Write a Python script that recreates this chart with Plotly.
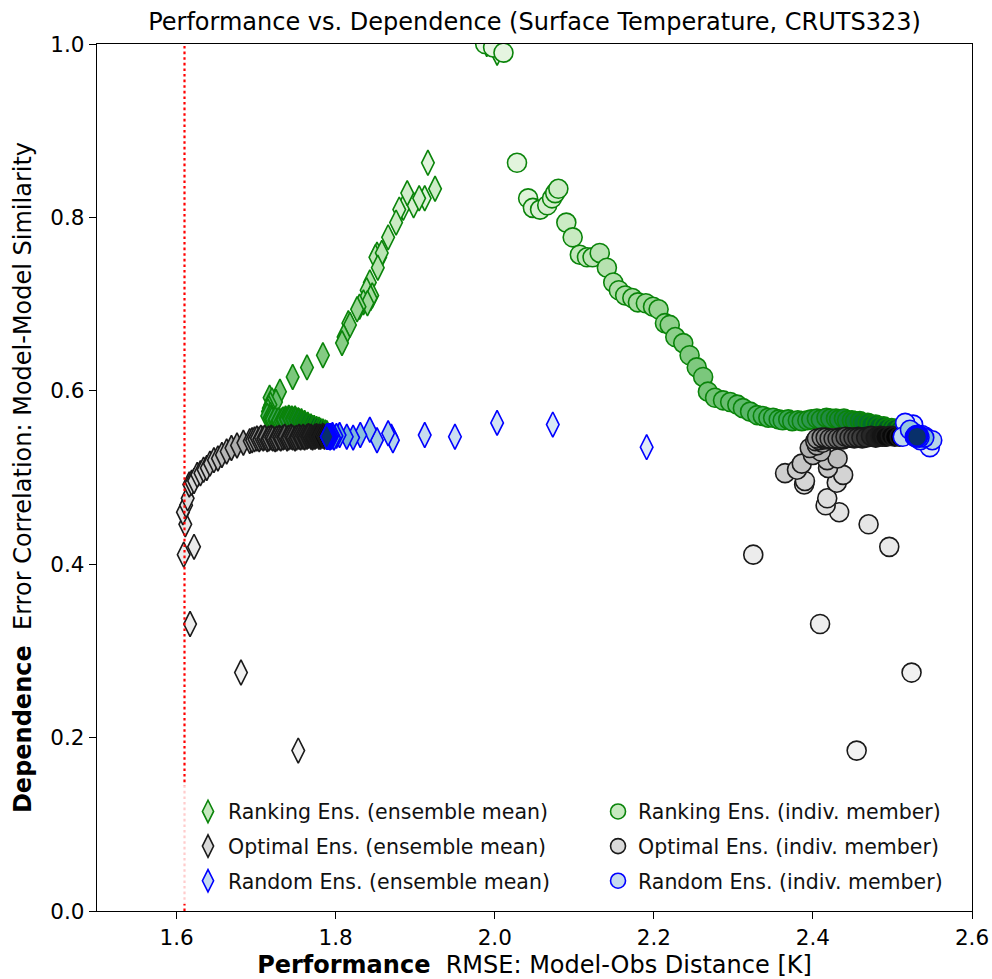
import plotly.graph_objects as go

FONT = "DejaVu Sans"

# ---------------- data ----------------
x_ticks = [1.6, 1.8, 2.0, 2.2, 2.4, 2.6]
y_ticks = [0.0, 0.2, 0.4, 0.6, 0.8, 1.0]
best_single_rmse = 1.61

# Ranking ensemble (ordered by ensemble size)
rank_dep = [
    1.000, 0.996, 0.990,
    0.863, 0.822, 0.811, 0.809, 0.814, 0.822, 0.828, 0.833,
    0.794, 0.777, 0.757, 0.754, 0.754, 0.759, 0.742, 0.725, 0.716, 0.710,
    0.707, 0.702, 0.701, 0.697, 0.694, 0.678, 0.676, 0.662, 0.655, 0.641,
    0.627, 0.616, 0.599, 0.592, 0.589, 0.587, 0.584, 0.580, 0.576, 0.572,
    0.571, 0.569, 0.569, 0.567, 0.566, 0.567, 0.565, 0.566, 0.565, 0.566,
    0.567, 0.568, 0.567, 0.569, 0.568, 0.568, 0.567, 0.568, 0.566, 0.566,
    0.565, 0.565, 0.563, 0.563, 0.561, 0.561, 0.559, 0.559, 0.557, 0.557,
    0.556, 0.555, 0.554, 0.553, 0.552, 0.551,
]
rank_perf_mean = [
    1.990, 2.000, 2.003,
    1.916, 1.912, 1.885, 1.880, 1.898, 1.905, 1.890, 1.925,
    1.876, 1.866, 1.852, 1.856, 1.850, 1.858, 1.853, 1.843, 1.839, 1.846,
    1.844, 1.835, 1.840, 1.830, 1.827, 1.816, 1.818, 1.810, 1.808, 1.784,
    1.764, 1.746, 1.730, 1.717, 1.720, 1.725, 1.718, 1.716, 1.715, 1.718,
    1.714, 1.717, 1.719, 1.720, 1.723, 1.724, 1.727, 1.728, 1.731, 1.733,
    1.734, 1.737, 1.738, 1.741, 1.742, 1.745, 1.746, 1.749, 1.750, 1.753,
    1.754, 1.757, 1.758, 1.761, 1.762, 1.765, 1.766, 1.769, 1.771, 1.773,
    1.776, 1.779, 1.781, 1.784, 1.787, 1.789,
]
rank_perf_member = [
    1.988, 1.998, 2.011,
    2.028, 2.042, 2.048, 2.057, 2.066, 2.072, 2.076, 2.080,
    2.090, 2.098, 2.107, 2.116, 2.123, 2.132, 2.141, 2.149, 2.156, 2.164,
    2.173, 2.180, 2.190, 2.199, 2.206, 2.214, 2.220, 2.227, 2.237, 2.245,
    2.254, 2.262, 2.268, 2.277, 2.287, 2.296, 2.305, 2.312, 2.321, 2.330,
    2.337, 2.344, 2.350, 2.357, 2.362, 2.369, 2.374, 2.381, 2.386, 2.393,
    2.398, 2.405, 2.410, 2.417, 2.422, 2.429, 2.433, 2.439, 2.443, 2.449,
    2.453, 2.459, 2.463, 2.469, 2.473, 2.479, 2.483, 2.489, 2.493, 2.499,
    2.503, 2.509, 2.513, 2.519, 2.523, 2.528,
]

# Optimal ensemble
opt_dep = [
    0.185, 0.275, 0.331, 0.411, 0.420, 0.446, 0.460, 0.468, 0.476, 0.492,
    0.494, 0.496, 0.503, 0.505, 0.509, 0.511, 0.516, 0.520, 0.522, 0.526,
    0.530, 0.534, 0.537, 0.540, 0.542, 0.543, 0.544, 0.545, 0.544, 0.546,
    0.545, 0.546, 0.544, 0.545, 0.546, 0.545, 0.544, 0.545, 0.546, 0.545,
    0.546, 0.547, 0.545, 0.546, 0.547, 0.546, 0.545, 0.546, 0.547, 0.546,
    0.547, 0.546, 0.547, 0.548, 0.547, 0.546, 0.547, 0.548, 0.547, 0.547,
    0.548, 0.547, 0.547,
]
opt_perf_mean = [
    1.753, 1.681, 1.617, 1.609, 1.622, 1.611, 1.608, 1.612, 1.614, 1.616,
    1.619, 1.622, 1.626, 1.630, 1.634, 1.638, 1.642, 1.647, 1.652, 1.657,
    1.663, 1.669, 1.676, 1.684, 1.692, 1.695, 1.698, 1.701, 1.704, 1.706,
    1.709, 1.711, 1.714, 1.716, 1.719, 1.721, 1.724, 1.726, 1.729, 1.731,
    1.734, 1.736, 1.739, 1.741, 1.744, 1.746, 1.749, 1.751, 1.754, 1.756,
    1.759, 1.761, 1.764, 1.766, 1.769, 1.771, 1.774, 1.776, 1.779, 1.781,
    1.784, 1.786, 1.789,
]
opt_perf_member = [
    2.455, 2.524, 2.409, 2.325, 2.496, 2.470, 2.433, 2.416, 2.418, 2.389,
    2.430, 2.390, 2.438, 2.365, 2.380, 2.419, 2.386, 2.418, 2.431, 2.400,
    2.410, 2.396, 2.405, 2.412, 2.403, 2.408, 2.414, 2.405, 2.420, 2.411,
    2.424, 2.416, 2.428, 2.421, 2.433, 2.426, 2.438, 2.431, 2.442, 2.436,
    2.447, 2.441, 2.452, 2.446, 2.457, 2.451, 2.462, 2.456, 2.467, 2.461,
    2.472, 2.467, 2.477, 2.473, 2.482, 2.479, 2.487, 2.485, 2.492, 2.491,
    2.498, 2.503, 2.509,
]

# Random ensemble
rnd_dep = [
    0.535, 0.561, 0.563, 0.547, 0.549, 0.547, 0.543, 0.551, 0.543, 0.555,
    0.549, 0.546, 0.547, 0.549, 0.548, 0.546, 0.549, 0.547, 0.548, 0.546,
    0.548, 0.547, 0.548, 0.547, 0.547, 0.548, 0.547, 0.547, 0.547, 0.547,
]
rnd_perf_mean = [
    2.191, 2.073, 2.003, 1.950, 1.912, 1.870, 1.872, 1.866, 1.852, 1.843,
    1.831, 1.822, 1.814, 1.805, 1.801, 1.798, 1.796, 1.795, 1.794, 1.793,
    1.792, 1.792, 1.791, 1.791, 1.790, 1.790, 1.790, 1.789, 1.789, 1.789,
]
rnd_perf_member = [
    2.547, 2.526, 2.516, 2.541, 2.537, 2.513, 2.550, 2.528, 2.535, 2.522,
    2.532, 2.540, 2.528, 2.533, 2.529, 2.534, 2.530, 2.532, 2.531, 2.530,
    2.532, 2.531, 2.530, 2.531, 2.531, 2.532, 2.531, 2.531, 2.531, 2.531,
]

legend_labels = {
    "rank_mean": "Ranking Ens. (ensemble mean)",
    "opt_mean": "Optimal Ens. (ensemble mean)",
    "rnd_mean": "Random Ens. (ensemble mean)",
    "rank_mem": "Ranking Ens. (indiv. member)",
    "opt_mem": "Optimal Ens. (indiv. member)",
    "rnd_mem": "Random Ens. (indiv. member)",
}

# ---------------- styles ----------------
GREENS = [[0, '#f7fcf5'], [0.125, '#e5f5e0'], [0.25, '#c7e9c0'], [0.375, '#a1d99b'],
          [0.5, '#74c476'], [0.625, '#41ab5d'], [0.75, '#238b45'], [0.875, '#006d2c'], [1, '#00441b']]
BLUES = [[0, '#f7fbff'], [0.125, '#deebf7'], [0.25, '#c6dbef'], [0.375, '#9ecae1'],
         [0.5, '#6baed6'], [0.625, '#4292c6'], [0.75, '#2171b5'], [0.875, '#08519c'], [1, '#08306b']]
GREYS = [[0, '#ffffff'], [0.125, '#f0f0f0'], [0.25, '#d9d9d9'], [0.375, '#bdbdbd'],
         [0.5, '#969696'], [0.625, '#737373'], [0.75, '#525252'], [0.875, '#252525'], [1, '#000000']]

EDGE = {"rank": "#0a840a", "opt": "#1a1a1a", "rnd": "#0000ff"}
LIGHT = {"rank": "#c7e9c0", "opt": "#d9d9d9", "rnd": "#c6dbef"}
SCALE = {"rank": GREENS, "opt": GREYS, "rnd": BLUES}

D_SIZE = 18
C_SIZE = 19
LW = 1.6

fig = go.Figure()


def add_series(x, y, kind, symbol, size):
    n = len(x)
    order = list(range(1, n + 1))
    fig.add_trace(go.Scatter(
        x=x, y=y, mode="markers", showlegend=False, hoverinfo="skip",
        marker=dict(symbol=symbol, size=size, color=order, colorscale=SCALE[kind],
                    cmin=-0.1 * n, cmax=n,
                    line=dict(color=EDGE[kind], width=LW)),
    ))


add_series(rank_perf_mean, rank_dep, "rank", "diamond-tall", D_SIZE)
add_series(opt_perf_mean, opt_dep, "opt", "diamond-tall", D_SIZE)
add_series(rnd_perf_mean, rnd_dep, "rnd", "diamond-tall", D_SIZE)
add_series(rank_perf_member, rank_dep, "rank", "circle", C_SIZE)
add_series(opt_perf_member, opt_dep, "opt", "circle", C_SIZE)
add_series(rnd_perf_member, rnd_dep, "rnd", "circle", C_SIZE)

# legend-only entries
for key, kind, symbol, leg in [
    ("rank_mean", "rank", "diamond-tall", "legend"),
    ("opt_mean", "opt", "diamond-tall", "legend"),
    ("rnd_mean", "rnd", "diamond-tall", "legend"),
    ("rank_mem", "rank", "circle", "legend2"),
    ("opt_mem", "opt", "circle", "legend2"),
    ("rnd_mem", "rnd", "circle", "legend2"),
]:
    fig.add_trace(go.Scatter(
        x=[None], y=[None], mode="markers", name=legend_labels[key], legend=leg,
        legendgroup=key,
        marker=dict(symbol=symbol, size=16 if symbol != "circle" else 15,
                    color=LIGHT[kind], line=dict(color=EDGE[kind], width=LW)),
    ))

# best single model line
fig.add_shape(type="line", xref="x", yref="y", x0=best_single_rmse, x1=best_single_rmse,
              y0=0, y1=1, line=dict(color="red", width=2.2, dash="2.6px,3px"), layer="above")
# semi-transparent legend background
fig.add_shape(type="rect", xref="x", yref="y", x0=1.598, x1=2.592, y0=0.008, y1=0.145,
              fillcolor="rgba(255,255,255,0.8)", line=dict(width=0), layer="above")

axis_common = dict(
    showgrid=False, zeroline=False, showline=True, linecolor="black", linewidth=1.3,
    mirror=True, ticks="outside", ticklen=7, tickwidth=1.3, tickcolor="black",
    tickfont=dict(family=FONT, size=21.5, color="black"), automargin=False,
)

W, H = 992, 979
fig.update_layout(
    width=W, height=H,
    margin=dict(l=97, r=20, t=44, b=68, autoexpand=False),
    paper_bgcolor="white", plot_bgcolor="white",
    font=dict(family=FONT, color="black"),
    title=dict(text="Performance vs. Dependence (Surface Temperature, CRUTS323)",
               x=0.5, xref="paper", xanchor="center",
               y=1 - 22 / H, yref="container", yanchor="middle",
               font=dict(family=FONT, size=24, color="black")),
    xaxis=dict(range=[1.5, 2.6], tickvals=x_ticks, tickformat=".1f",
               title=dict(text="<b>Performance</b>\u00a0\u00a0RMSE: Model-Obs Distance [K]",
                          font=dict(family=FONT, size=24, color="black"), standoff=13),
               **axis_common),
    yaxis=dict(range=[0, 1], tickvals=y_ticks, tickformat=".1f",
               title=dict(text="<b>Dependence</b>\u00a0\u00a0Error Correlation: Model-Model Similarity",
                          font=dict(family=FONT, size=24, color="black"), standoff=11),
               **axis_common),
    legend=dict(x=0.104, y=0.1377, xanchor="left", yanchor="top", bgcolor="rgba(0,0,0,0)",
                font=dict(family=FONT, size=20.5, color="#111"), tracegroupgap=5,
                itemsizing="trace", traceorder="grouped"),
    legend2=dict(x=0.5726, y=0.1377, xanchor="left", yanchor="top", bgcolor="rgba(0,0,0,0)",
                 font=dict(family=FONT, size=20.5, color="#111"), tracegroupgap=5,
                 itemsizing="trace", traceorder="grouped"),
)

# remove the page's default 8px body margin so the figure fills the window exactly
fig.write_html("out.html", config={"displayModeBar": False},
               post_script="document.body.style.margin='0';document.body.style.overflow='hidden';")
